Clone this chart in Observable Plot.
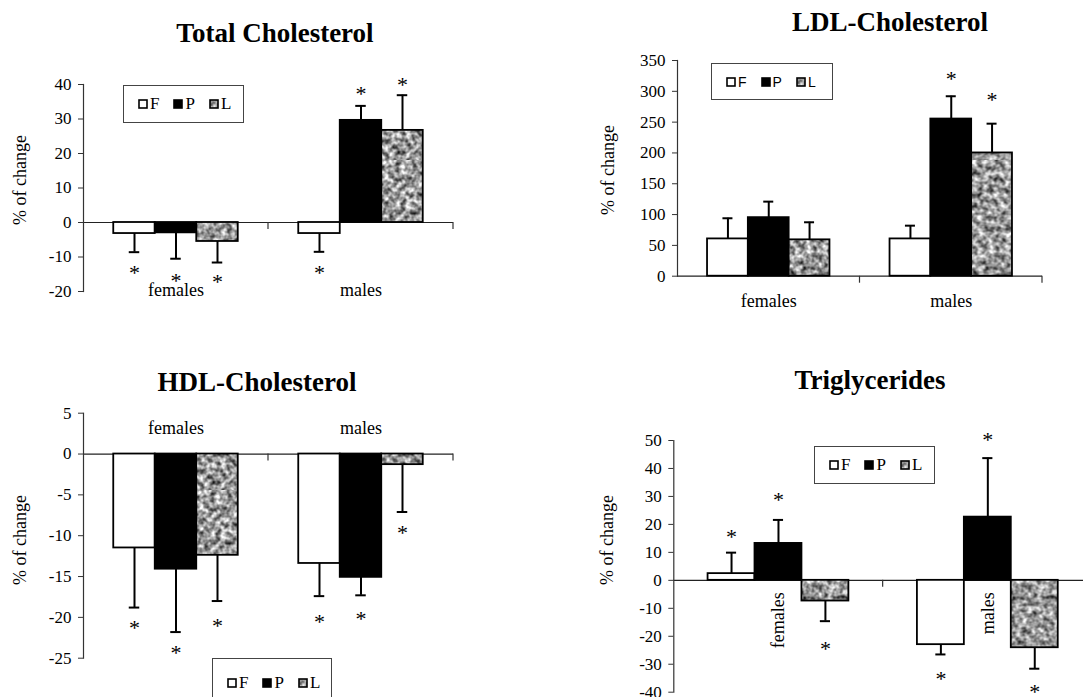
<!DOCTYPE html>
<html>
<head>
<meta charset="utf-8">
<script src="https://cdn.jsdelivr.net/npm/d3@7"></script>
<script src="https://cdn.jsdelivr.net/npm/@observablehq/plot@0.6"></script>
<style>
  html, body { margin: 0; padding: 0; background: #fff; }
  #root { position: relative; width: 1083px; height: 697px; overflow: hidden; background: #fff; font-family: "Liberation Serif", "Times New Roman", serif; color: #000; }
  #root svg text { font-family: "Liberation Serif", "Times New Roman", serif; }
  .title { position: absolute; font-family: "Liberation Serif", "Times New Roman", serif; font-weight: bold; font-size: 27px; transform: translate(-50%, -50%); white-space: nowrap; }
  .ylab { position: absolute; font-family: "Liberation Serif", "Times New Roman", serif; font-size: 18px; transform: translate(-50%, -50%) rotate(-90deg); white-space: nowrap; }
  .legend { position: absolute; box-sizing: border-box; border: 1.5px solid #444; background: #fff; display: flex; align-items: center; padding-left: 14px; font-family: "Liberation Serif", "Times New Roman", serif; font-size: 17px; }
  .legend.sans { font-family: "Liberation Sans", "Open Sans", sans-serif; font-size: 14px; }
  .legend .item { display: flex; align-items: center; margin-right: 14px; }
  .legend svg { margin-right: 2px; }
</style>
</head>
<body>
<div id="root">
  <svg width="0" height="0" style="position:absolute">
    <defs>
      <filter id="noiseFilter" filterUnits="userSpaceOnUse" x="0" y="0" width="160" height="160" color-interpolation-filters="sRGB">
        <feTurbulence type="fractalNoise" baseFrequency="0.18" numOctaves="2" seed="7"/>
        <feColorMatrix type="matrix" values="1.45 0 0 0 -0.12  1.45 0 0 0 -0.12  1.45 0 0 0 -0.12  0 0 0 0 1"/>
      </filter>
      <pattern id="noise" patternUnits="userSpaceOnUse" width="160" height="160">
        <rect width="160" height="160" fill="#999"/>
        <rect width="160" height="160" filter="url(#noiseFilter)"/>
      </pattern>
    </defs>
  </svg>
</div>
<script>
// ---------- data ----------
const groups = ["females", "males"];
const series = ["F", "P", "L"];
const seriesFill = ["white", "black", "url(#noise)"];

// order within each array: females F, P, L, males F, P, L
const tcValues = [-3.2, -3.0, -5.5, -3.2, 29.6, 26.7];
const tcErrors = [5.4, 7.5, 6.1, 5.3, 4.2, 10.2];
const tcStars  = [-13.3, -15.4, -15.9, -13.3, 38.8, 41.4];
const tcTicks  = [-20, -10, 0, 10, 20, 30, 40];

const ldlValues = [60.5, 95, 59, 60.5, 255, 200];
const ldlErrors = [33.5, 26, 28.5, 21.5, 37, 47.5];
const ldlStars  = [null, null, null, null, 328.6, 293.3];
const ldlTicks  = [0, 50, 100, 150, 200, 250, 300, 350];

const hdlValues = [-11.5, -14.1, -12.4, -13.4, -15.1, -1.3];
const hdlErrors = [7.3, 7.7, 5.6, 4.0, 2.2, 5.8];
const hdlStars  = [-20.7, -23.7, -20.4, -20.0, -19.6, -9.0];
const hdlTicks  = [-25, -20, -15, -10, -5, 0, 5];

const tgValues = [2.4, 13.2, -7.4, -23.0, 22.6, -24.1];
const tgErrors = [7.5, 8.4, 7.2, 3.5, 21.1, 7.5];
const tgStars  = [17.3, 30.5, -22.9, -33.4, 52.0, -38.0];
const tgTicks  = [-40, -30, -20, -10, 0, 10, 20, 30, 40, 50];

const titles = ["Total Cholesterol", "LDL-Cholesterol", "HDL-Cholesterol", "Triglycerides"];
const yLabel = "% of change";

// ---------- helpers ----------
const root = document.getElementById("root");
const NS = "http://www.w3.org/2000/svg";
const SERIF = '"Liberation Serif", "Times New Roman", serif';

function rowsOf(values, errors, stars) {
  return groups.flatMap((g, gi) => series.map((s, si) => {
    const i = gi * series.length + si;
    const v = values[i];
    return {group: g, series: s, value: v, errEnd: v + Math.sign(v) * errors[i], star: stars[i]};
  }));
}

function boundaryTicks(len) {
  return (index, scales, values, dims) => {
    const line = document.createElementNS(NS, "line");
    const x = dims.width - dims.marginRight;
    const y0 = scales.y(0);
    line.setAttribute("x1", x); line.setAttribute("x2", x);
    line.setAttribute("y1", y0); line.setAttribute("y2", y0 + len);
    line.setAttribute("stroke", "#333");
    line.setAttribute("stroke-width", 1.2);
    return line;
  };
}

function makePanel(cfg) {
  const rows = rowsOf(cfg.values, cfg.errors, cfg.stars);
  const starRows = rows.filter(d => d.star != null);
  const marks = [
    Plot.ruleY([0], {stroke: "#222", strokeWidth: 1.2}),
    Plot.barY(rows, {fx: "group", x: "series", y: "value", fill: "series", stroke: "black", strokeWidth: 1.8}),
    Plot.ruleX(rows, {fx: "group", x: "series", y1: "value", y2: "errEnd", stroke: "black", strokeWidth: 2}),
    Plot.tickY(rows, {fx: "group", x: "series", y: "errEnd", stroke: "black", strokeWidth: 2, insetLeft: cfg.capInset, insetRight: cfg.capInset}),
    Plot.text(starRows, {fx: "group", x: "series", y: "star", text: () => "*", fontSize: 22, dy: 5}),
    Plot.frame({anchor: "left", facetAnchor: "left", stroke: "#333", strokeWidth: 1.2}),
    Plot.axisY({ticks: cfg.ticks, tickSize: 5, tickPadding: 7, tickFormat: d => String(d), label: null, fontSize: 17, stroke: "#333"}),
    boundaryTicks(7),
    cfg.labelMark
  ];
  const chart = Plot.plot({
    width: cfg.width,
    height: cfg.height,
    marginLeft: cfg.ml, marginRight: cfg.mr, marginTop: cfg.mt, marginBottom: cfg.mb,
    style: `font-family: ${SERIF}; font-size: 17px; color: #000; background: transparent; overflow: visible;`,
    fx: {domain: groups, padding: 0, axis: null, round: false},
    x: {domain: series, paddingInner: 0, paddingOuter: cfg.pad, axis: null, round: false},
    y: {domain: cfg.yDomain, nice: false, axis: null},
    color: {domain: series, range: seriesFill},
    marks
  });
  chart.setAttribute("font-family", SERIF);
  chart.style.position = "absolute";
  chart.style.left = cfg.left + "px";
  chart.style.top = cfg.top + "px";
  chart.style.overflow = "visible";
  chart.style.maxWidth = "none";
  root.appendChild(chart);
}

function addText(cls, text, x, y) {
  const d = document.createElement("div");
  d.className = cls;
  d.textContent = text;
  d.style.left = x + "px";
  d.style.top = y + "px";
  root.appendChild(d);
}

function addLegend(left, top, width, height, sans) {
  const box = document.createElement("div");
  box.className = "legend" + (sans ? " sans" : "");
  Object.assign(box.style, {left: left + "px", top: top + "px", width: width + "px", height: height + "px"});
  series.forEach((s, i) => {
    const item = document.createElement("span");
    item.className = "item";
    const sw = document.createElementNS(NS, "svg");
    sw.setAttribute("width", 10); sw.setAttribute("height", 10);
    const r = document.createElementNS(NS, "rect");
    r.setAttribute("x", 1); r.setAttribute("y", 1); r.setAttribute("width", 8); r.setAttribute("height", 8);
    r.setAttribute("fill", seriesFill[i]); r.setAttribute("stroke", "black"); r.setAttribute("stroke-width", 1.6);
    sw.appendChild(r);
    item.appendChild(sw);
    const t = document.createElement("span");
    t.textContent = s;
    item.appendChild(t);
    box.appendChild(item);
  });
  root.appendChild(box);
}

// ---------- panel 1: Total Cholesterol ----------
makePanel({
  left: 0, top: 0, width: 541, height: 330, ml: 83, mr: 88, mt: 84, mb: 39,
  values: tcValues, errors: tcErrors, stars: tcStars, ticks: tcTicks, yDomain: [-20, 40],
  pad: 0.729, capInset: 15.5,
  labelMark: Plot.text(groups, {fx: d => d, text: d => d, frameAnchor: "bottom", lineAnchor: "bottom", dy: 4, fontSize: 18})
});

// ---------- panel 2: LDL ----------
makePanel({
  left: 541, top: 0, width: 542, height: 330, ml: 136, mr: 41, mt: 60, mb: 54.3,
  values: ldlValues, errors: ldlErrors, stars: ldlStars, ticks: ldlTicks, yDomain: [0, 350],
  pad: 0.736, capInset: 15.4,
  labelMark: Plot.text(groups, {fx: d => d, text: d => d, frameAnchor: "bottom", lineAnchor: "middle", dy: 25, fontSize: 18})
});

// ---------- panel 3: HDL ----------
makePanel({
  left: 0, top: 330, width: 541, height: 367, ml: 83, mr: 88, mt: 82.7, mb: 39.3,
  values: hdlValues, errors: hdlErrors, stars: hdlStars, ticks: hdlTicks, yDomain: [-25, 5],
  pad: 0.729, capInset: 15.5,
  labelMark: Plot.text(groups, {fx: d => d, text: d => d, frameAnchor: "top", lineAnchor: "middle", dy: 15, fontSize: 18})
});

// ---------- panel 4: Triglycerides ----------
makePanel({
  left: 541, top: 330, width: 551, height: 367, ml: 132.3, mr: 0, mt: 110, mb: 5.3,
  values: tgValues, errors: tgErrors, stars: tgStars, ticks: tgTicks, yDomain: [-40, 50],
  pad: 0.73, capInset: 18.4,
  labelMark: Plot.text(groups, {fx: d => d, y: () => 0, text: d => d, rotate: -90, textAnchor: "end", lineAnchor: "middle", dy: 12, fontSize: 18})
});

// ---------- titles, axis labels, legends ----------
addText("title", titles[0], 275, 33);
addText("title", titles[1], 890, 22);
addText("title", titles[2], 257, 382);
addText("title", titles[3], 870, 380);

addText("ylab", yLabel, 20, 180);
addText("ylab", yLabel, 608, 170);
addText("ylab", yLabel, 20, 540);
addText("ylab", yLabel, 607, 540);

addLegend(123, 85, 121, 38, false);
addLegend(711, 63, 122, 37, true);
addLegend(212, 658, 120, 50, false);
addLegend(814, 446, 121, 38, false);
</script>
</body>
</html>
